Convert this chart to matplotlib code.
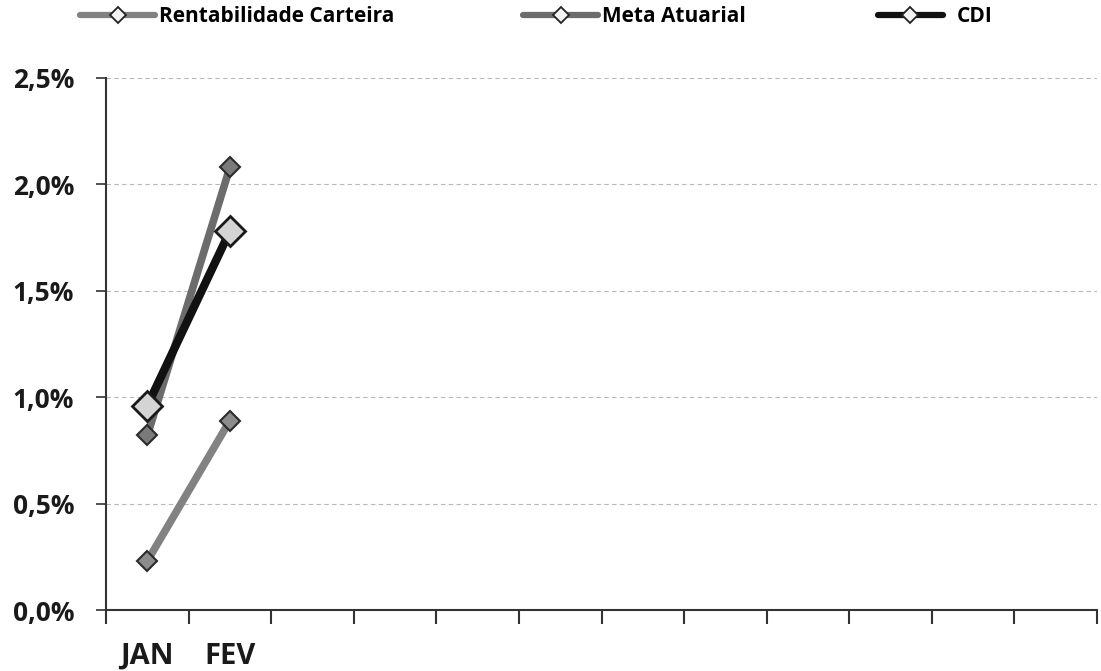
import numpy as np
import matplotlib.pyplot as plt
from matplotlib.ticker import FuncFormatter, FixedLocator

# dados
meses = ["JAN", "FEV", "", "", "", "", "", "", "", "", "", ""]
rentabilidade = [0.23, 0.89]
meta_atuarial = [0.82, 2.08]
cdi = [0.96, 1.78]

plt.rcParams['font.family'] = ['Open Sans', 'DejaVu Sans']

fig = plt.figure(figsize=(11.01, 6.71), dpi=100)
ax = fig.add_axes([0.0963, 0.0909, 0.9001, 0.7929])

x = np.arange(len(rentabilidade))

ax.plot(x, rentabilidade, color='#828282', lw=5.5, marker='D', ms=10,
        mfc='#8c8c8c', mec='#2b2b2b', mew=1.5, zorder=3)
ax.plot(x, meta_atuarial, color='#6c6c6c', lw=5.5, marker='D', ms=10,
        mfc='#7a7a7a', mec='#2b2b2b', mew=1.5, zorder=3)
ax.plot(x, cdi, color='#111111', lw=6, marker='D', ms=15,
        mfc='#d4d4d4', mec='#1a1a1a', mew=2, zorder=4)

ax.set_xlim(-0.5, len(meses) - 0.5)
ax.set_ylim(0, 2.5)
ax.set_yticks(np.arange(0, 2.51, 0.5))
ax.yaxis.set_major_formatter(FuncFormatter(lambda v, p: ('%.1f%%' % v).replace('.', ',')))
ax.grid(axis='y', color='#b8b8b8', ls=(0, (4, 3)), lw=0.8)
ax.set_axisbelow(True)

ax.set_xticks(np.arange(len(meses)))
ax.set_xticklabels(meses, fontsize=21, fontweight='bold', color='#1a1a1a')
ax.tick_params(axis='x', which='major', length=0, pad=23)
ax.xaxis.set_minor_locator(FixedLocator(np.arange(-0.5, len(meses), 1)))
ax.tick_params(axis='x', which='minor', length=10, width=1.5, color='#333333')
ax.tick_params(axis='y', length=7, width=1.2, color='#333333', labelsize=19,
               pad=16, labelcolor='#1a1a1a')
for t in ax.get_yticklabels():
    t.set_fontweight('bold')

for s in ['top', 'right']:
    ax.spines[s].set_visible(False)
ax.spines['left'].set_color('#333333')
ax.spines['bottom'].set_color('#333333')
ax.spines['left'].set_linewidth(1.5)
ax.spines['bottom'].set_linewidth(1.5)

# legenda: tres entradas posicionadas separadamente
entradas = [("Rentabilidade Carteira", '#828282', 80, 3.6, 0.2),
            ("Meta Atuarial", '#6c6c6c', 523, 3.6, 0.2),
            ("CDI", '#111111', 878, 3.1, 0.7)]
for nome, cor, xpix, hl, tp in entradas:
    h, = ax.plot([], [], color=cor, lw=4.5, marker='D', ms=8, mfc='#f2f2f2',
                 mec='#222222', mew=1.3, solid_capstyle='round')
    fig.legend([h], [nome], loc='center left', bbox_to_anchor=(xpix / 1101, 1 - 17 / 671),
               frameon=False, borderpad=0, borderaxespad=0, handlelength=hl,
               handletextpad=tp, prop={'size': 15, 'weight': 'bold'})

fig.savefig('out.png', dpi=100)
